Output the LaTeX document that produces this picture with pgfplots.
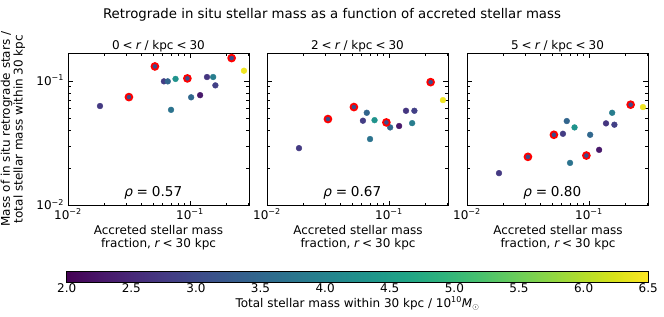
\documentclass[border=0pt]{standalone}
\usepackage{pgfplots}
\pgfplotsset{compat=1.18}
\usepackage{pgfplotstable}
\usepackage{fontspec}
\setmainfont{DejaVu Sans}

% columns: x, y (0<r<30), y (2<r<30), y (5<r<30), colour value
\pgfplotstableread{
x y1 y2 y3 c
0.0183 0.0630 0.0289 0.0182 2.75
0.0612 0.0994 0.0480 0.0377 2.80
0.0658 0.0994 0.0556 0.0477 3.45
0.0762 0.1040 0.0485 0.0424 4.30
0.0700 0.0587 0.0342 0.0220 3.70
0.1023 0.0740 0.0424 0.0370 3.50
0.1212 0.0770 0.0435 0.0280 2.30
0.1380 0.1077 0.0577 0.0457 2.70
0.1550 0.1077 0.0459 0.0556 3.90
0.1617 0.0923 0.0577 0.0446 2.85
0.2773 0.1210 0.0703 0.0618 6.40
}\tabN
\pgfplotstableread{
x y1 y2 y3 c
0.0316 0.0743 0.0495 0.0246 3.05
0.0516 0.1310 0.0618 0.0370 3.05
0.0953 0.1050 0.0465 0.0252 3.05
0.2197 0.1530 0.0980 0.0646 3.05
}\tabR

\newcommand{\myfs}[1]{\fontsize{#1}{#1}\selectfont}
\newcommand{\mysp}{\hspace{0.25em}}

\pgfplotsset{
  mypanel/.style={
    scale only axis, width=181pt, height=152.5pt,
    anchor=south west, clip=false,
    xmin=0.01, xmax=0.305, ymin=0.01, ymax=0.168,
    axis line style={line width=0.9pt},
    tick align=inside,
    tick style={black, line width=0.8pt},
    major tick length=4.9pt, minor tick length=2.8pt,
    xtick={0.01,0.1},
    xticklabels={10\textsuperscript{−2},10\textsuperscript{−1}},
    minor xtick={0.02,0.03,0.04,0.05,0.06,0.07,0.08,0.09,0.2,0.3},
    ytick={0.01,0.1},
    minor ytick={0.02,0.03,0.04,0.05,0.06,0.07,0.08,0.09},
    tick label style={font=\myfs{12}},
    xticklabel style={yshift=0pt},
    yticklabel style={xshift=-0.5pt, yshift=1pt},
    colormap/viridis,
    point meta min=2, point meta max=6.5,
    title style={at={(0.5,1)}, anchor=base, yshift=-2pt, font=\myfs{12}},
  },
  normpts/.style={scatter, only marks, mark=*, mark size=2.9pt,
    scatter src=explicit,
    scatter/use mapped color={draw=mapped color, fill=mapped color}},
  redpts/.style={scatter, only marks, mark=*, mark size=3.4pt,
    scatter src=explicit,
    mark options={line width=1.8pt},
    scatter/use mapped color={draw=red, fill=mapped color}},
}

\begin{document}
\begin{tikzpicture}[x=1pt,y=1pt]
\useasboundingbox (0,0) rectangle (664,316);

\node[anchor=base, inner sep=0pt, font=\myfs{13.3}] at (332,297.5)
  {Retrograde in situ stellar mass as a function of accreted stellar mass};

\node[anchor=base, inner sep=0pt, font=\myfs{12}, rotate=90] at (9.8,187)
  {Mass of in situ retrograde stars /};
\node[anchor=base, inner sep=0pt, font=\myfs{12}, rotate=90] at (22.6,187)
  {total stellar mass within 30 kpc};

% x labels
\foreach \cx in {158.5,358,558}{
  \node[anchor=base, inner sep=0pt, font=\myfs{12}] at (\cx,81.7) {Accreted stellar mass};
  \node[anchor=base, inner sep=0pt, font=\myfs{12}] at (\cx,68.9) {fraction, {\itshape r}\mysp<\mysp30 kpc};
}

% panel 1
\begin{loglogaxis}[mypanel, at={(68pt,110.5pt)},
  yticklabels={10\textsuperscript{−2},10\textsuperscript{−1}},
  title={0\mysp<\mysp{\itshape r} / kpc\mysp<\mysp30}]
\addplot[normpts] table[x=x, y=y1, meta=c] {\tabN};
\addplot[redpts] table[x=x, y=y1, meta=c] {\tabR};
\node[anchor=base west, inner sep=0pt, font=\myfs{13.6}] at (rel axis cs:0.31,0.058) {{\itshape ρ}\hspace{0.28em}=\hspace{0.28em}0.57};
\end{loglogaxis}

% panel 2
\begin{loglogaxis}[mypanel, at={(267pt,110.5pt)},
  yticklabels={},
  title={2\mysp<\mysp{\itshape r} / kpc\mysp<\mysp30}]
\addplot[normpts] table[x=x, y=y2, meta=c] {\tabN};
\addplot[redpts] table[x=x, y=y2, meta=c] {\tabR};
\node[anchor=base west, inner sep=0pt, font=\myfs{13.6}] at (rel axis cs:0.31,0.058) {{\itshape ρ}\hspace{0.28em}=\hspace{0.28em}0.67};
\end{loglogaxis}

% panel 3
\begin{loglogaxis}[mypanel, at={(467pt,110.5pt)},
  yticklabels={},
  title={5\mysp<\mysp{\itshape r} / kpc\mysp<\mysp30}]
\addplot[normpts] table[x=x, y=y3, meta=c] {\tabN};
\addplot[redpts] table[x=x, y=y3, meta=c] {\tabR};
\node[anchor=base west, inner sep=0pt, font=\myfs{13.6}] at (rel axis cs:0.31,0.058) {{\itshape ρ}\hspace{0.28em}=\hspace{0.28em}0.80};
\end{loglogaxis}

% colour bar
\begin{axis}[at={(66.7pt,42pt)}, anchor=south west, scale only axis,
  width=581.5pt, height=11.3pt, hide axis,
  xmin=0, xmax=1, ymin=0, ymax=1,
  colormap/viridis, point meta min=2, point meta max=6.5,
  colorbar horizontal,
  colorbar style={at={(parent axis.south west)}, anchor=south west,
    width=581.5pt, height=11.3pt,
    xtick={2,2.5,3,3.5,4,4.5,5,5.5,6,6.5},
    xticklabels={2.0,2.5,3.0,3.5,4.0,4.5,5.0,5.5,6.0,6.5},
    major tick length=0pt,
    axis line style={line width=0.9pt},
    tick label style={font=\myfs{12}},
    xticklabel style={yshift=2pt},
    xlabel={Total stellar mass within 30 kpc / 10\textsuperscript{10}{\itshape M}\textsubscript{\(\odot\)}},
    xlabel style={font=\myfs{12}, yshift=3pt},
  }]
\addplot[draw=none] coordinates {(0,0) (1,1)};
\end{axis}
\end{tikzpicture}
\end{document}
